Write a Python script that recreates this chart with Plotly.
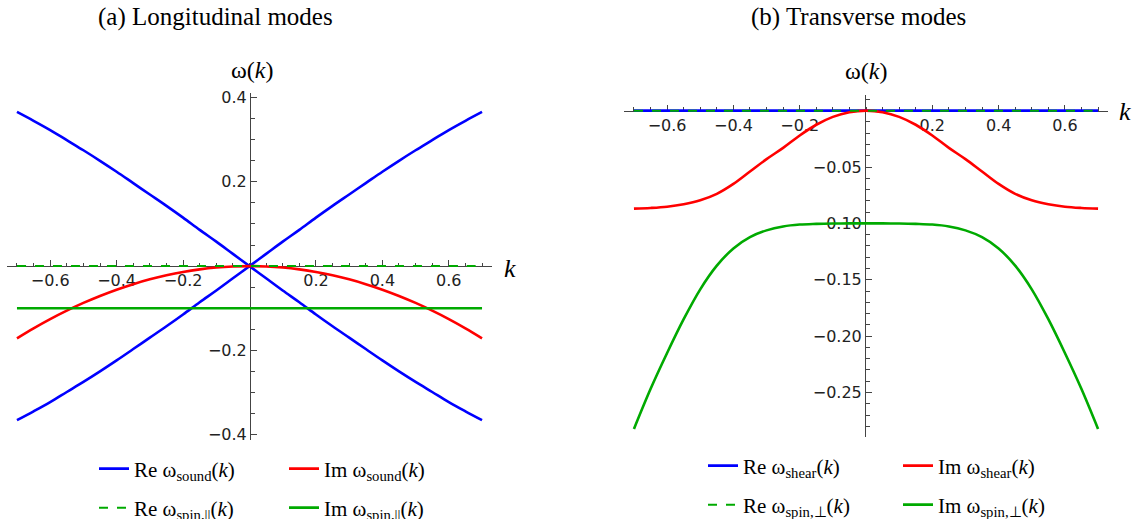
import plotly.graph_objects as go

# ---------------- data ----------------
k = [-0.70, -0.65, -0.60, -0.55, -0.50, -0.45, -0.40, -0.35, -0.30, -0.25,
     -0.20, -0.15, -0.10, -0.05, 0.00, 0.05, 0.10, 0.15, 0.20, 0.25,
     0.30, 0.35, 0.40, 0.45, 0.50, 0.55, 0.60, 0.65, 0.70]

# (a) longitudinal
re_sound_up = [-0.366, -0.345, -0.323, -0.299, -0.275, -0.250, -0.224, -0.197, -0.170, -0.143,
               -0.115, -0.086, -0.058, -0.029, 0.000, 0.029, 0.058, 0.086, 0.115, 0.143,
               0.170, 0.197, 0.224, 0.250, 0.275, 0.299, 0.323, 0.345, 0.366]
re_sound_down = [0.366, 0.345, 0.323, 0.299, 0.275, 0.250, 0.224, 0.197, 0.170, 0.143,
                 0.115, 0.086, 0.058, 0.029, 0.000, -0.029, -0.058, -0.086, -0.115, -0.143,
                 -0.170, -0.197, -0.224, -0.250, -0.275, -0.299, -0.323, -0.345, -0.366]
im_sound = [-0.1715, -0.1479, -0.1260, -0.1059, -0.0875, -0.0709, -0.0560, -0.0429, -0.0315, -0.0219,
            -0.0140, -0.0079, -0.0035, -0.0009, 0.0000, -0.0009, -0.0035, -0.0079, -0.0140, -0.0219,
            -0.0315, -0.0429, -0.0560, -0.0709, -0.0875, -0.1059, -0.1260, -0.1479, -0.1715]
re_spin_par = [0.0] * 29
im_spin_par = [-0.1] * 29

# (b) transverse
re_shear = [0.0] * 29
im_shear = [-0.0869, -0.0863, -0.0852, -0.0830, -0.0795, -0.0738, -0.0650, -0.0540, -0.0430, -0.0330,
            -0.0220, -0.0125, -0.0055, -0.0014, 0.0000, -0.0014, -0.0055, -0.0125, -0.0220, -0.0330,
            -0.0430, -0.0540, -0.0650, -0.0738, -0.0795, -0.0830, -0.0852, -0.0863, -0.0869]
re_spin_perp = [0.0] * 29
im_spin_perp = [-0.2824, -0.2470, -0.2150, -0.1850, -0.1585, -0.1375, -0.1222, -0.1122, -0.1062, -0.1027,
                -0.1010, -0.1004, -0.1001, -0.1000, -0.1000, -0.1000, -0.1001, -0.1004, -0.1010, -0.1027,
                -0.1062, -0.1122, -0.1222, -0.1375, -0.1585, -0.1850, -0.2150, -0.2470, -0.2824]

# tick labels
xa_ticks = [-0.6, -0.4, -0.2, 0.2, 0.4, 0.6]
xa_text = ["\u22120.6", "\u22120.4", "\u22120.2", "0.2", "0.4", "0.6"]
ya_ticks = [-0.4, -0.2, 0.2, 0.4]
ya_text = ["\u22120.4", "\u22120.2", "0.2", "0.4"]
yb_ticks = [-0.25, -0.20, -0.15, -0.10, -0.05]
yb_text = ["\u22120.25", "\u22120.20", "\u22120.15", "\u22120.10", "\u22120.05"]

x_minor = [round(-0.7 + 0.05 * i, 2) for i in range(29)]
ya_minor = [round(-0.4 + 0.05 * i, 2) for i in range(17)]
yb_minor = [round(-0.29 + 0.01 * i, 2) for i in range(31)]

# ---------------- figure ----------------
W, H = 1140, 519
BLUE, RED, GREEN = "#0000FF", "#FF0000", "#00AA00"
LW = 2.6

fig = go.Figure()

def add(x, y, color, name, xa, ya, legend, dash="solid", show=True, group=None, width=LW):
    fig.add_trace(go.Scatter(x=x, y=y, mode="lines", name=name,
                             line=dict(color=color, width=width, dash=dash, shape="spline"),
                             xaxis=xa, yaxis=ya, legend=legend, showlegend=show,
                             legendgroup=group, hoverinfo="skip"))

# panel (a)
add(k, re_sound_up, BLUE, "Re \u03c9<sub>sound</sub>(<i>k</i>)", "x", "y", "legend", group="rs")
add(k, re_sound_down, BLUE, "Re sound 2", "x", "y", "legend", show=False, group="rs")
add(k, im_sound, RED, "Im \u03c9<sub>sound</sub>(<i>k</i>)", "x", "y", "legend")
add(k, re_spin_par, GREEN, "Re \u03c9<sub>spin,||</sub>(<i>k</i>)", "x", "y", "legend2", dash="dash", width=2)
add(k, im_spin_par, GREEN, "Im \u03c9<sub>spin,||</sub>(<i>k</i>)", "x", "y", "legend2")

# panel (b)
add(k, re_shear, BLUE, "Re \u03c9<sub>shear</sub>(<i>k</i>)", "x2", "y2", "legend3")
add(k, im_shear, RED, "Im \u03c9<sub>shear</sub>(<i>k</i>)", "x2", "y2", "legend3")
add(k, re_spin_perp, GREEN, "Re \u03c9<sub>spin,\u22a5</sub>(<i>k</i>)", "x2", "y2", "legend4", dash="dash", width=2)
add(k, im_spin_perp, GREEN, "Im \u03c9<sub>spin,\u22a5</sub>(<i>k</i>)", "x2", "y2", "legend4")

AX = "#444444"
TICKFONT = dict(family="DejaVu Sans", size=16, color="#222222")

def xaxis(domain_px, pos_px, ticks, text):
    return dict(domain=[domain_px[0] / W, domain_px[1] / W], range=[-0.73, 0.73],
                anchor="free", position=1 - pos_px / H, showline=True, linecolor=AX,
                linewidth=1, ticks="inside", ticklen=6, tickcolor=AX, tickwidth=1,
                tickmode="array", tickvals=ticks, ticktext=text, tickfont=TICKFONT,
                minor=dict(tickmode="array", tickvals=x_minor, ticks="inside", ticklen=3.5,
                           tickcolor=AX, tickwidth=1),
                showgrid=False, zeroline=False, layer="below traces", fixedrange=True)

def yaxis(domain_px, rng, pos_px, ticks, text, minor):
    return dict(domain=[1 - domain_px[1] / H, 1 - domain_px[0] / H], range=rng,
                anchor="free", position=pos_px / W, showline=True, linecolor=AX,
                linewidth=1, ticks="inside", ticklen=6, tickcolor=AX, tickwidth=1,
                tickmode="array", tickvals=ticks, ticktext=text, tickfont=TICKFONT,
                minor=dict(tickmode="array", tickvals=minor, ticks="inside", ticklen=3.5,
                           tickcolor=AX, tickwidth=1),
                showgrid=False, zeroline=False, layer="below traces", fixedrange=True)

LEGFONT = dict(family="Liberation Serif", size=21, color="#000000")

def legend(x_px, y_px, ew):
    return dict(orientation="h", x=x_px / W, y=1 - y_px / H, xanchor="left", yanchor="middle",
                entrywidth=ew, entrywidthmode="pixels", font=LEGFONT,
                bgcolor="rgba(0,0,0,0)", borderwidth=0, tracegroupgap=0, itemwidth=30)

fig.update_layout(
    width=W, height=H, margin=dict(l=0, r=0, t=0, b=0, autoexpand=False),
    paper_bgcolor="white", plot_bgcolor="white",
    xaxis=xaxis((7, 492), 266, xa_ticks, xa_text),
    yaxis=yaxis((93, 440), [-0.413, 0.411], 250, ya_ticks, ya_text, ya_minor),
    xaxis2=xaxis((624, 1108), 110.7, xa_ticks, xa_text),
    yaxis2=yaxis((95, 437), [-0.2895, 0.0139], 865, yb_ticks, yb_text, yb_minor),
    legend=legend(94, 469, 145),
    legend2=legend(94, 508, 145),
    legend3=legend(703, 466, 150),
    legend4=legend(703, 505, 150),
    showlegend=True,
)

SERIF = "Liberation Serif"
ann = [
    dict(text="(a) Longitudinal modes", x=215, y=17, size=25),
    dict(text="(b) Transverse modes", x=858, y=17, size=25),
    dict(text="\u03c9(<i>k</i>)", x=252, y=70, size=24),
    dict(text="\u03c9(<i>k</i>)", x=866, y=71, size=24),
    dict(text="<i>k</i>", x=510, y=268, size=26),
    dict(text="<i>k</i>", x=1125, y=112, size=26),
]
for a in ann:
    fig.add_annotation(text=a["text"], x=a["x"] / W, y=1 - a["y"] / H, xref="paper", yref="paper",
                       xanchor="center", yanchor="middle", showarrow=False,
                       font=dict(family=SERIF, size=a["size"], color="#000000"))

fig.write_html("out.html", config={"displayModeBar": False},
               post_script="document.documentElement.style.margin='0';"
                           "document.body.style.margin='0';"
                           "document.body.style.overflow='hidden';")
